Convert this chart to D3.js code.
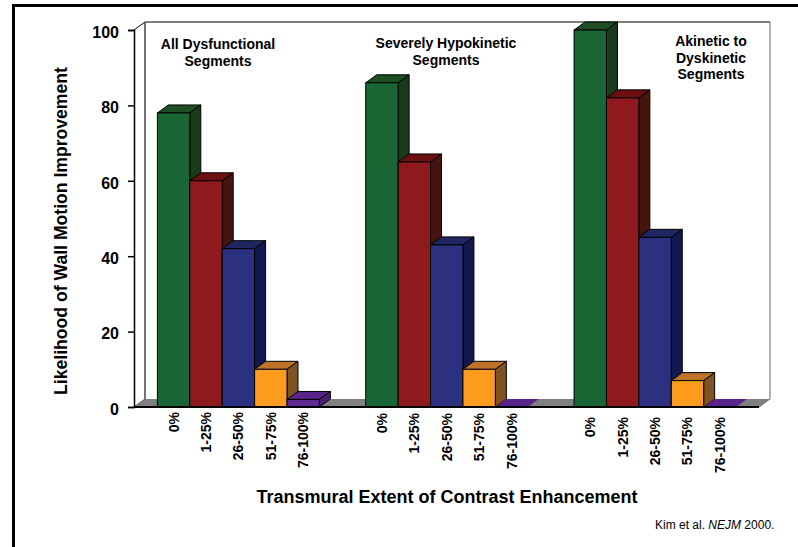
<!DOCTYPE html>
<html>
<head>
<meta charset="utf-8">
<script src="https://cdn.jsdelivr.net/npm/d3@7"></script>
<style>
  html, body { margin: 0; padding: 0; background: #fff; }
  svg { display: block; }
  text { font-family: "Liberation Sans", Arial, sans-serif; fill: #000; }
  .bold { font-weight: bold; }
</style>
</head>
<body>
<div id="chart"></div>
<script>
const groups = ["All Dysfunctional Segments", "Severely Hypokinetic Segments", "Akinetic to Dyskinetic Segments"];
const ranges = ["0%", "1-25%", "26-50%", "51-75%", "76-100%"];
const allDysfunctional = [78, 60, 42, 10, 2];
const severelyHypokinetic = [86, 65, 43, 10, 0];
const akineticDyskinetic = [100, 82, 45, 7, 0];
const seriesValues = [allDysfunctional, severelyHypokinetic, akineticDyskinetic];
const yTicks = [0, 20, 40, 60, 80, 100];

const frontColors = ["#196634", "#8e1a1e", "#2b3180", "#fc9c1e", "#612a90"];
const topColors = ["#1e4f22", "#6c1012", "#20265f", "#bf7328", "#5a2488"];
const sideColors = ["#1a3a1c", "#46140f", "#141850", "#7e5222", "#4a1f70"];

const width = 798, height = 547;
const depthX = 11, depthY = 8;

const svg = d3.select("#chart").append("svg")
    .attr("width", width)
    .attr("height", height);

// slide frame, only top and left are visible
svg.append("path")
    .attr("d", "M13.5,547V5.5H798")
    .attr("fill", "none")
    .attr("stroke", "#000")
    .attr("stroke-width", 3);

const x0 = d3.scaleBand().domain(groups).range([134, 759]);
const x1 = d3.scaleBand().domain(ranges).range([23.4, 185.4]);
const y = d3.scaleLinear().domain([0, 100]).range([407, 30]);

const plotLeft = x0.range()[0], plotRight = x0.range()[1];
const plotBase = y(0), plotTop = y(100);

// floor and walls
svg.append("polygon")
    .attr("points", [[plotLeft, plotBase], [plotLeft + depthX, plotBase - depthY], [plotRight + depthX, plotBase - depthY], [plotRight, plotBase]].join(" "))
    .attr("fill", "#808080");

svg.append("path")
    .attr("d", `M${plotLeft},${plotTop}L${plotLeft + depthX},${plotTop - depthY}H${plotRight + depthX}`)
    .attr("fill", "none")
    .attr("stroke", "#000")
    .attr("stroke-width", 1);
svg.append("path")
    .attr("d", `M${plotRight + depthX},${plotTop - depthY}V${plotBase - depthY}L${plotRight},${plotBase}`)
    .attr("fill", "none")
    .attr("stroke", "#666")
    .attr("stroke-width", 1);
svg.append("line")
    .attr("x1", plotLeft + depthX).attr("x2", plotLeft + depthX)
    .attr("y1", plotTop - depthY).attr("y2", plotBase - depthY)
    .attr("stroke", "#444")
    .attr("stroke-width", 1.5);
svg.append("line")
    .attr("x1", plotLeft).attr("x2", plotLeft + depthX)
    .attr("y1", plotBase).attr("y2", plotBase - depthY)
    .attr("stroke", "#555");

// labels sit a bit lower under the last group
const labelDrop = [5, 6, 10];

// bars
groups.forEach((g, gi) => {
    const gx = x0(g);
    const layer = svg.append("g").attr("class", "group");

    seriesValues[gi].forEach((v, i) => {
        const bx = gx + x1(ranges[i]);
        const w = x1.bandwidth();
        const by = y(v);
        const stroke = v === 0 ? "none" : "#000";

        layer.append("polygon")
            .attr("points", [[bx, by], [bx + depthX, by - depthY], [bx + w + depthX, by - depthY], [bx + w, by]].join(" "))
            .attr("fill", topColors[i])
            .attr("stroke", stroke);

        if (v > 0) {
            layer.append("polygon")
                .attr("points", [[bx + w, by], [bx + w + depthX, by - depthY], [bx + w + depthX, plotBase - depthY], [bx + w, plotBase]].join(" "))
                .attr("fill", sideColors[i])
                .attr("stroke", stroke);
            layer.append("rect")
                .attr("x", bx)
                .attr("y", by)
                .attr("width", w)
                .attr("height", plotBase - by)
                .attr("fill", frontColors[i])
                .attr("stroke", stroke);
        }
    });

    // category labels for this group
    const xAxis = d3.scaleBand().domain(ranges).range([gx + x1.range()[0], gx + x1.range()[1]]);
    const axisG = svg.append("g")
        .attr("transform", `translate(0,${plotBase})`)
        .call(d3.axisBottom(xAxis).tickSize(0).tickPadding(0));
    axisG.select(".domain").remove();
    axisG.selectAll("text")
        .attr("class", "bold")
        .attr("font-size", 14)
        .attr("text-anchor", "end")
        .attr("dy", null)
        .attr("y", null)
        .attr("transform", `translate(5,${labelDrop[gi]}) rotate(-90)`);
});

// front floor line
svg.append("line")
    .attr("x1", plotLeft).attr("x2", plotRight)
    .attr("y1", plotBase).attr("y2", plotBase)
    .attr("stroke", "#000")
    .attr("stroke-width", 2);

// y axis
const yAxisG = svg.append("g")
    .attr("transform", `translate(${plotLeft},0)`)
    .call(d3.axisLeft(y).tickValues(yTicks).tickSize(6).tickPadding(9));
yAxisG.selectAll("path,line").attr("stroke", "#000").attr("stroke-width", 1.5);
yAxisG.selectAll("text")
    .attr("class", "bold")
    .attr("dy", "0.45em")
    .attr("font-size", 16);

// group titles
const groupTitles = [
    {x: 218, y: 49, lines: ["All Dysfunctional", "Segments"]},
    {x: 446, y: 48, lines: ["Severely Hypokinetic", "Segments"]},
    {x: 711, y: 46, lines: ["Akinetic to", "Dyskinetic", "Segments"]}
];
groupTitles.forEach(t => {
    svg.append("text")
        .attr("class", "bold")
        .attr("font-size", 14)
        .attr("text-anchor", "middle")
        .selectAll("tspan")
        .data(t.lines)
        .join("tspan")
        .attr("x", t.x)
        .attr("y", (d, i) => t.y + i * 16.5)
        .text(d => d);
});

// axis titles
svg.append("text")
    .attr("class", "bold")
    .attr("font-size", 17.6)
    .attr("text-anchor", "middle")
    .attr("transform", "translate(67,231) rotate(-90)")
    .text("Likelihood of Wall Motion Improvement");

svg.append("text")
    .attr("class", "bold")
    .attr("font-size", 18)
    .attr("text-anchor", "middle")
    .attr("x", 447)
    .attr("y", 503)
    .text("Transmural Extent of Contrast Enhancement");

const cite = svg.append("text")
    .attr("font-size", 12)
    .attr("x", 655)
    .attr("y", 529);
cite.append("tspan").text("Kim et al. ");
cite.append("tspan").attr("font-style", "italic").text("NEJM");
cite.append("tspan").text(" 2000.");
</script>
</body>
</html>
